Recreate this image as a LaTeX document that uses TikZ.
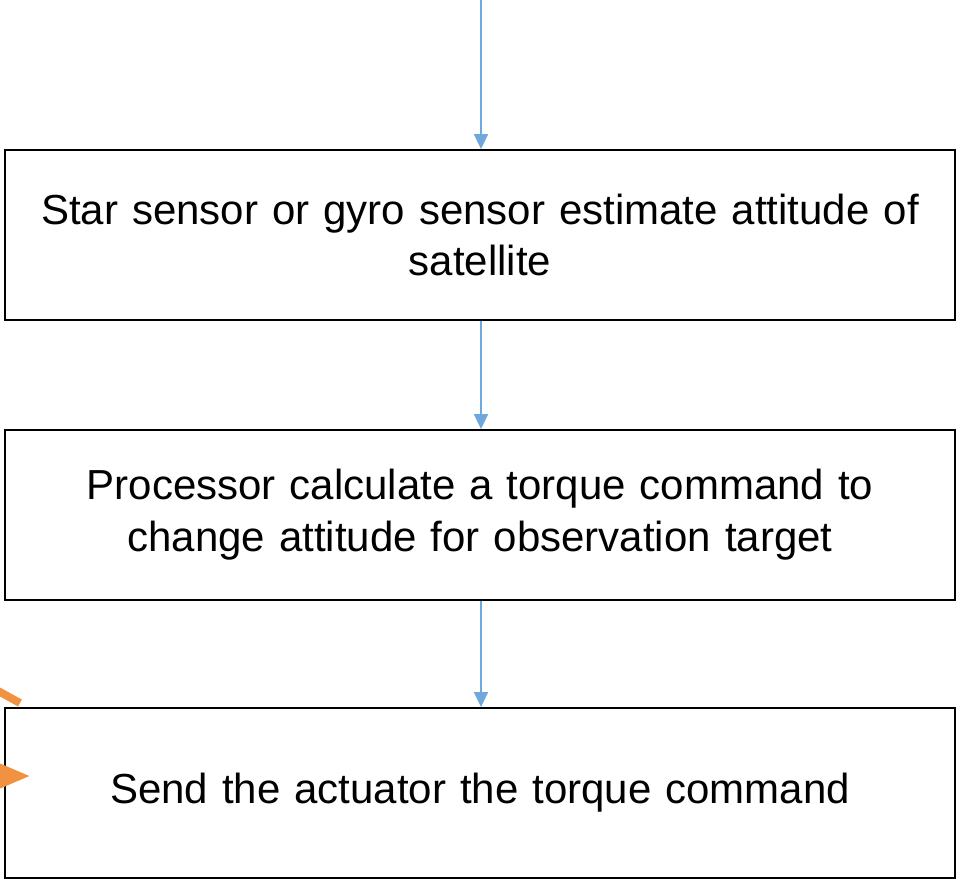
\documentclass[tikz,border=0pt]{standalone}
\usepackage{fontspec}
\setmainfont{Liberation Sans}
\usetikzlibrary{arrows.meta}
\definecolor{flowblue}{RGB}{111,168,220}
\definecolor{markorange}{RGB}{241,146,64}

\begin{document}
\begin{tikzpicture}[x=0.02cm,y=-0.02cm,
			step box/.style={rectangle,draw,line width=1.1pt,minimum width=19.02cm,minimum height=3.4cm,
				text width=18.6cm,align=center,font=\fontsize{23.9}{29.5}\selectfont},
			flow line/.style={draw=flowblue,line width=0.8pt,-{Triangle[length=8.5pt,width=8pt]}},
			mark line/.style={draw=markorange,line width=4.5pt}]
			
			\useasboundingbox (0,0) rectangle (959,880);
			\clip (0,0) rectangle (959,880);
			
			\coordinate (Top) at (481,0);
			\node[step box] (Sense) at (480,235) {Star sensor or gyro sensor estimate attitude of\\ satellite};
			\node[step box] (Calc) at (480,515) {Processor calculate a torque command to\\ change attitude for observation target};
			\node[step box] (Send) at (480,793) {Send the actuator the torque command};
			
			\path[flow line]
			(Top) -- (Top |- Sense.north);
			\path[flow line] (Sense.south -| Top) -- (Top |- Calc.north);
			\path[flow line] (Calc.south -| Top) -- (Top |- Send.north);
			
			% cut-off marks at the left edge
			\coordinate (MarkA) at (-40,670);
			\coordinate (MarkB) at (20,703);
			\draw[mark line] (MarkA) -- (MarkB);
			\coordinate (MarkC) at (-40,776);
			\coordinate (MarkD) at (30,776);
			\draw[mark line,-{Triangle[length=30pt,width=24pt]}] (MarkC) -- (MarkD);
			\end{tikzpicture}
\end{document}
